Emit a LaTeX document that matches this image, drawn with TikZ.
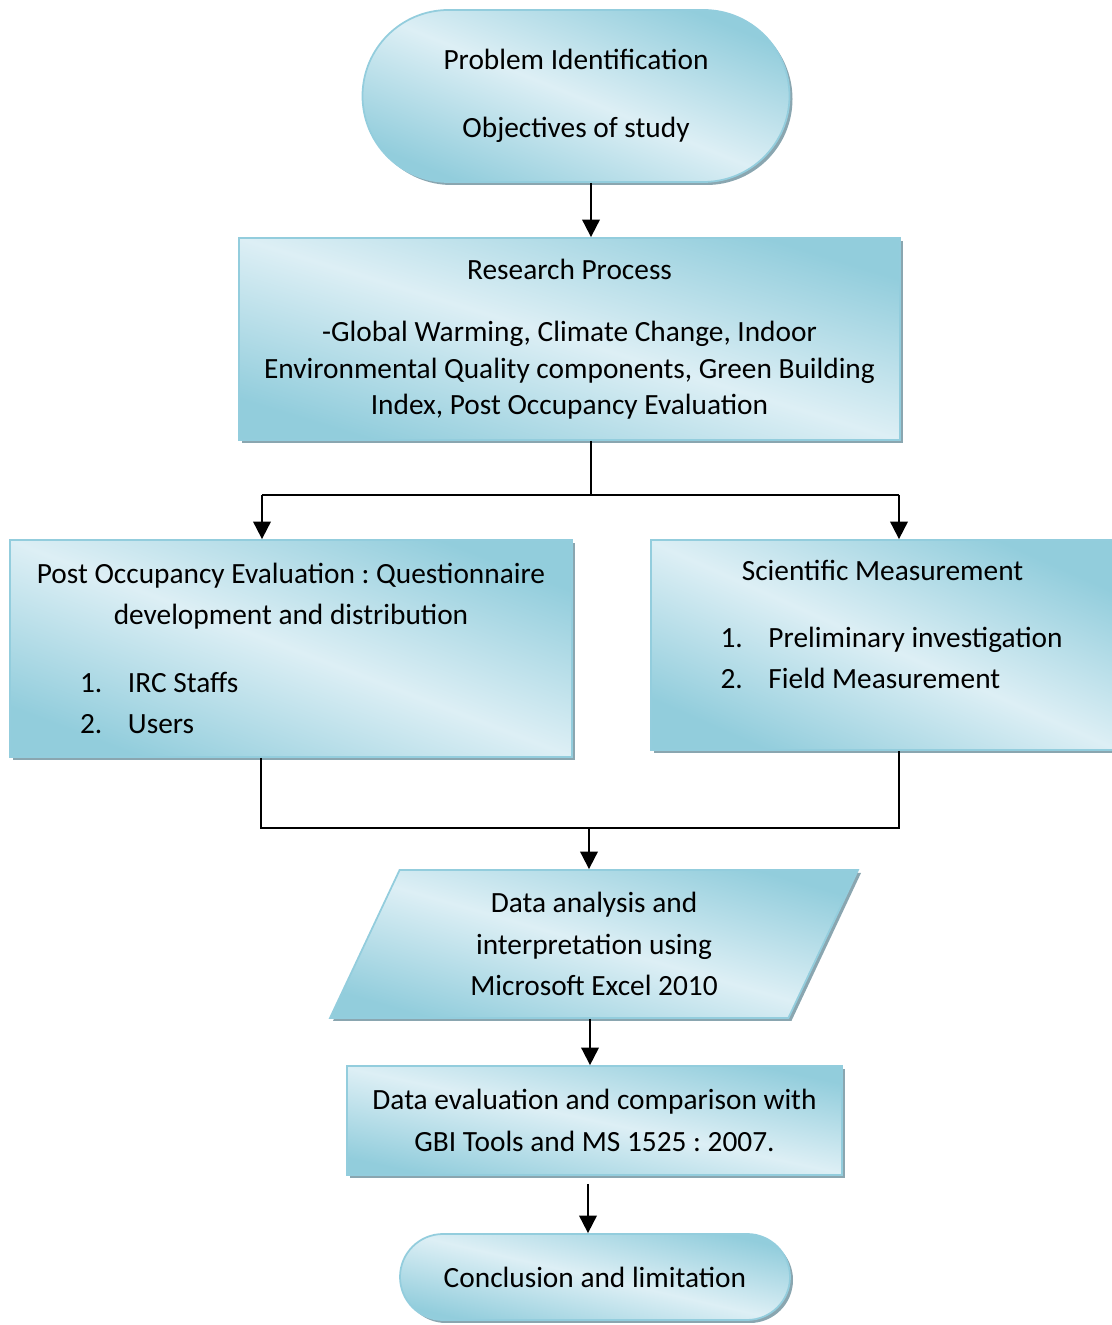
\documentclass[tikz,border=0pt]{standalone}
\usepackage{fontspec}
\setmainfont{Carlito}
\usepackage{tikz}
\usetikzlibrary{arrows.meta,shapes.geometric,shadows}
\usepackage{xcolor}
\definecolor{aquaDark}{HTML}{92CDDC}
\definecolor{aquaLight}{HTML}{DDEFF5}
\definecolor{aquaEdge}{HTML}{93CDDD}
\definecolor{shadowGrey}{HTML}{8AA6B0}
\newcommand{\listline}[3]{\makebox[#1][l]{\makebox[0.96cm][l]{#2}#3}}
\frenchspacing

\begin{document}
\begin{tikzpicture}[>={Triangle[width=10pt,length=10pt]},
  font=\fontsize{16.7}{23.5}\selectfont,
  flow/.style={draw=aquaEdge,line width=1pt,top color=aquaDark,bottom color=aquaDark,
    middle color=aquaLight,shading angle=#1,align=center,inner sep=0pt,
    drop shadow={shadow xshift=0.06cm,shadow yshift=-0.06cm,fill=shadowGrey,opacity=1}},
  flow/.default=-20,
  link/.style={line width=1.1pt}]
\useasboundingbox (0,0) rectangle (22.22,26.5);
\node[flow=-22,rounded corners=1.72cm,minimum width=8.54cm,minimum height=3.44cm] (problem) at (11.52,24.58)
  {Problem Identification\\[15pt]Objectives of study};
\node[flow=-17,minimum width=13.22cm,minimum height=4.04cm,font=\fontsize{16.7}{20.5}\selectfont] (process) at (11.39,19.72)
  {Research Process\\[15pt]-Global Warming, Climate Change, Indoor\\Environmental Quality components, Green Building\\Index, Post Occupancy Evaluation};
\node[flow=-21,minimum width=11.24cm,minimum height=4.34cm] (poe) at (5.82,13.53)
  {Post Occupancy Evaluation : Questionnaire\\development and distribution\\[15pt]\listline{8.44cm}{1.}{IRC Staffs}\\\listline{8.44cm}{2.}{Users}};
\node[flow=-24,minimum width=9.26cm,minimum height=4.2cm] (measure) at (17.65,13.6)
  {Scientific Measurement\\[15pt]\listline{6.48cm}{1.}{Preliminary investigation}\\\listline{6.48cm}{2.}{Field Measurement}\\~};
\node[flow=-16,trapezium,trapezium left angle=56,trapezium right angle=124,trapezium stretches body,
  minimum width=10.56cm,minimum height=2.96cm] (analysis) at (11.88,7.62)
  {Data analysis and\\interpretation using\\Microsoft Excel 2010};
\node[flow=-12,minimum width=9.9cm,minimum height=2.18cm] (compare) at (11.89,4.09)
  {Data evaluation and comparison with\\GBI Tools and MS 1525 : 2007.};
\node[flow=-13,rounded corners=0.86cm,minimum width=7.8cm,minimum height=1.72cm] (conclusion) at (11.9,0.96)
  {Conclusion and limitation};

\coordinate (split) at (11.82,16.6);
\coordinate (splitL) at (5.24,16.6);
\coordinate (splitR) at (17.98,16.6);
\coordinate (join) at (11.78,9.94);
\coordinate (joinL) at (5.22,9.94);
\coordinate (joinR) at (17.98,9.94);
\draw[link,->] ([xshift=0.3cm]problem.south) -- ([xshift=0.3cm]problem.south |- process.north);
\draw[link] (process.south -| split) -- (split);
\draw[link] (splitL) -- (splitR);
\draw[link,->] (splitL) -- (splitL |- poe.north);
\draw[link,->] (splitR) -- (splitR |- measure.north);
\draw[link] (poe.south -| joinL) -- (joinL) -- (joinR) -- (measure.south -| joinR);
\draw[link,->] (join) -- (join |- analysis.north);
\draw[link,->] ([xshift=-0.08cm]analysis.south) -- ([xshift=-0.08cm]analysis.south |- compare.north);
\draw[link,->] ([xshift=-0.13cm,yshift=-0.16cm]compare.south) -- ([xshift=-0.13cm]compare.south |- conclusion.north);
\end{tikzpicture}
\end{document}
